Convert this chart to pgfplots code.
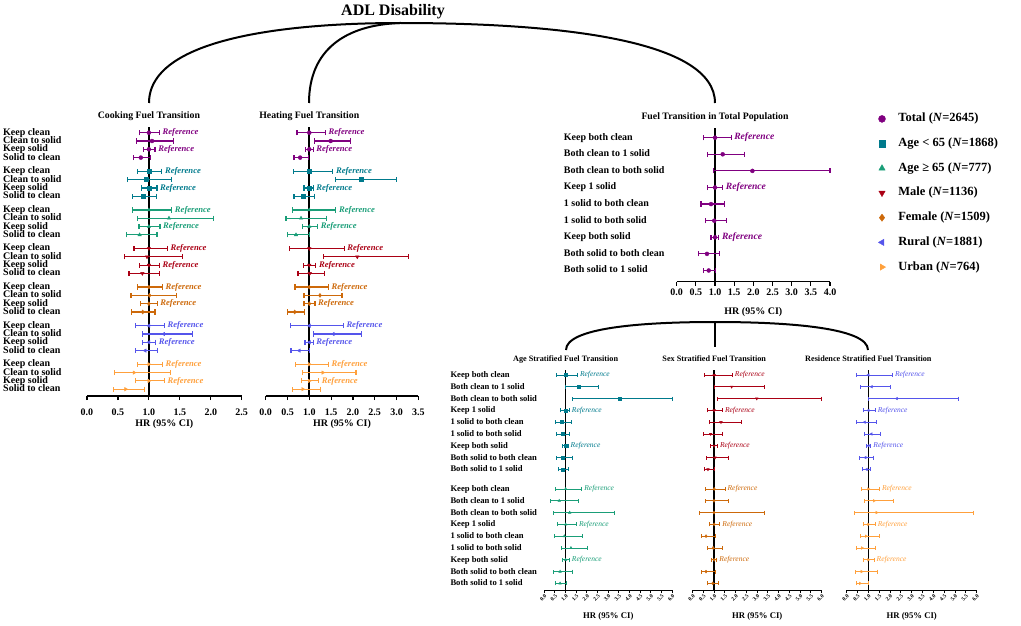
\documentclass[border=0pt]{standalone}
\usepackage{fontspec}
\setmainfont{Liberation Serif}
\usepackage{pgfplots}
\usepackage{pgfplotstable}
\pgfplotsset{compat=1.18}

\definecolor{cP}{RGB}{128,0,128}
\definecolor{cT}{RGB}{0,122,140}
\definecolor{cG}{RGB}{26,158,120}
\definecolor{cR}{RGB}{170,0,20}
\definecolor{cO}{RGB}{205,105,10}
\definecolor{cB}{RGB}{85,85,235}
\definecolor{cL}{RGB}{255,160,60}

% cooking fuel transition: r = row in group, hr, 95% CI
\pgfplotstableread{
r hr lo hi
0 1.00 0.845 1.17
1 1.05 0.80 1.40
2 1.00 0.91 1.10
3 0.87 0.75 1.03
}\cookP
\pgfplotstableread{
r hr lo hi
0 1.00 0.82 1.21
1 0.95 0.66 1.36
2 1.00 0.88 1.13
3 0.905 0.74 1.12
}\cookT
\pgfplotstableread{
r hr lo hi
0 1.00 0.73 1.37
1 1.325 0.82 2.05
2 1.00 0.84 1.18
3 0.85 0.64 1.13
}\cookG
\pgfplotstableread{
r hr lo hi
0 1.00 0.76 1.30
1 0.97 0.61 1.54
2 1.00 0.845 1.17
3 0.895 0.68 1.17
}\cookR
\pgfplotstableread{
r hr lo hi
0 1.00 0.81 1.22
1 1.01 0.71 1.45
2 1.00 0.865 1.135
3 0.90 0.72 1.10
}\cookO
\pgfplotstableread{
r hr lo hi
0 1.00 0.79 1.25
1 1.24 0.90 1.70
2 1.00 0.90 1.11
3 0.94 0.78 1.135
}\cookB
\pgfplotstableread{
r hr lo hi
0 1.00 0.81 1.22
1 0.76 0.44 1.35
2 1.00 0.79 1.25
3 0.625 0.43 0.93
}\cookL

% heating fuel transition
\pgfplotstableread{
r hr lo hi
0 1.00 0.72 1.37
1 1.49 1.12 1.95
2 1.00 0.91 1.09
3 0.79 0.65 0.98
}\heatP
\pgfplotstableread{
r hr lo hi
0 1.00 0.63 1.54
1 2.19 1.60 3.00
2 1.00 0.88 1.09
3 0.85 0.65 1.115
}\heatT
\pgfplotstableread{
r hr lo hi
0 1.00 0.61 1.61
1 0.81 0.465 1.40
2 1.00 0.84 1.19
3 0.695 0.50 1.00
}\heatG
\pgfplotstableread{
r hr lo hi
0 1.00 0.54 1.80
1 2.10 1.32 3.28
2 1.00 0.86 1.15
3 1.01 0.74 1.35
}\heatR
\pgfplotstableread{
r hr lo hi
0 1.00 0.67 1.44
1 1.245 0.88 1.75
2 1.00 0.88 1.13
3 0.665 0.505 0.885
}\heatO
\pgfplotstableread{
r hr lo hi
0 1.00 0.56 1.78
1 1.55 1.09 2.19
2 1.00 0.90 1.09
3 0.77 0.58 1.00
}\heatB
\pgfplotstableread{
r hr lo hi
0 1.00 0.68 1.44
1 1.31 0.85 2.07
2 1.00 0.83 1.215
3 0.85 0.62 1.25
}\heatL

% total population
\pgfplotstableread{
r hr lo hi
0 1.00 0.695 1.42
1 1.20 0.81 1.765
2 1.975 0.955 4.00
3 1.00 0.81 1.20
4 0.895 0.635 1.245
5 0.98 0.757 1.305
6 1.00 0.895 1.10
7 0.79 0.575 1.11
8 0.835 0.695 1.01
}\totP

% stratified
\pgfplotstableread{
r hr lo hi
0 1.00 0.58 1.55
1 1.61 0.985 2.55
2 3.55 1.30 6.00
3 1.00 0.77 1.17
4 0.815 0.52 1.27
5 0.845 0.58 1.20
6 1.00 0.86 1.11
7 0.845 0.55 1.33
8 0.86 0.675 1.11
}\ageT
\pgfplotstableread{
r hr lo hi
0 1.00 0.52 1.75
1 0.70 0.31 1.61
2 1.19 0.42 3.31
3 1.00 0.63 1.50
4 0.94 0.49 1.80
5 1.25 0.80 2.02
6 1.00 0.83 1.17
7 0.74 0.42 1.30
8 0.74 0.52 1.05
}\ageG
\pgfplotstableread{
r hr lo hi
0 1.00 0.525 1.84
1 1.81 0.99 3.32
2 2.98 1.17 6.00
3 1.00 0.68 1.38
4 1.315 0.80 2.245
5 0.835 0.495 1.395
6 1.00 0.835 1.145
7 1.04 0.65 1.655
8 0.71 0.525 1.005
}\sexR
\pgfplotstableread{
r hr lo hi
0 1.00 0.60 1.50
1 0.99 0.585 1.67
2 0.99 0.31 3.32
3 1.00 0.76 1.26
4 0.62 0.40 1.07
5 0.95 0.68 1.395
6 1.00 0.85 1.12
7 0.62 0.40 1.04
8 0.93 0.68 1.19
}\sexO
\pgfplotstableread{
r hr lo hi
0 1.00 0.46 2.105
1 1.15 0.615 2.03
2 2.31 1.00 5.15
3 1.00 0.77 1.31
4 0.83 0.46 1.355
5 1.14 0.83 1.54
6 1.00 0.89 1.11
7 0.86 0.58 1.23
8 0.92 0.74 1.08
}\resB
\pgfplotstableread{
r hr lo hi
0 1.00 0.67 1.505
1 1.26 0.80 2.15
2 1.38 0.37 5.85
3 1.00 0.77 1.31
4 0.89 0.615 1.505
5 0.71 0.43 1.32
6 1.00 0.77 1.26
7 0.69 0.395 1.41
8 0.615 0.43 1.00
}\resL

\newcommand{\bfs}[1]{\bfseries\fontsize{#1}{#1}\selectfont}

\tikzset{
  reftop/.style={anchor=west, inner sep=0pt, xshift=3pt, text height=6pt, text depth=1.5pt, font=\bfseries\itshape\fontsize{8.6}{8.6}\selectfont},
  reftot/.style={reftop, font=\bfseries\itshape\fontsize{9.6}{9.6}\selectfont},
  refbot/.style={anchor=west, inner sep=0pt, xshift=2.5pt, text height=5pt, text depth=1.2pt, font=\itshape\fontsize{7.5}{7.5}\selectfont},
}

\pgfplotsset{
  sP/.style={cP, mark=*},
  sT/.style={cT, mark=square*},
  sG/.style={cG, mark=triangle*},
  sR/.style={cR, mark=triangle*, mark options={rotate=180}},
  sO/.style={cO, mark=diamond*},
  sB/.style={cB, mark=triangle*, mark options={rotate=90}},
  sL/.style={cL, mark=triangle*, mark options={rotate=-90}},
  bartop/.style={mark size=2pt,
    error bars/error mark=|,
    error bars/error bar style={line width=1.2pt},
    error bars/error mark options={line width=1.2pt, mark size=2.6pt, rotate=0}},
  barbot/.style={mark size=1.5pt,
    error bars/error mark=|,
    error bars/error bar style={line width=0.9pt},
    error bars/error mark options={line width=0.9pt, mark size=2pt, rotate=0}},
  forest/.style={
    scale only axis, clip=false,
    axis lines*=left,
    y axis line style={draw=none},
    x axis line style={line width=1.2pt},
    ytick style={draw=none},
    xtick style={black, line width=1.2pt},
    tick align=outside,
    major tick length=4pt,
    /pgf/number format/assume math mode=true,
    /pgf/number format/fixed,
    /pgf/number format/fixed zerofill,
    /pgf/number format/precision=1,
    yticklabel style={anchor=west, inner sep=0pt, text height=7pt, text depth=2pt},
    title style={anchor=base},
    xlabel={HR (95\% CI)},
    xlabel style={at={(axis description cs:0.5,0)}, anchor=base},
  },
  toppanel/.style={forest,
    height=269pt, ymin=-31.72, ymax=0.687,
    xticklabel style={font=\bfs{10}, yshift=-5.5pt},
    yticklabel style={font=\bfs{10}},
    title style={font=\bfs{9.8}, yshift=2.7pt},
    xlabel style={font=\bfs{10}, yshift=-30.3pt},
  },
  botpanel/.style={forest,
    height=220pt, ymin=-18.22, ymax=0.42,
    xmin=0, xmax=6, xtick={0,0.5,...,6},
    major tick length=3pt,
    x axis line style={line width=1pt},
    xtick style={black, line width=1pt},
    xticklabel style={font=\bfs{5.5}, rotate=45, anchor=north east, inner sep=0.8pt},
    yticklabel style={font=\bfs{8.6}},
    title style={at={(axis description cs:0.1667,1)}, font=\bfs{8.2}, yshift=2.3pt},
    xlabel style={font=\bfs{8.7}, yshift=-28.5pt},
  },
}

% one forest series: #1 style, #2 table, #3 row offset, #4 size style
\newcommand{\fs}[4]{%
  \addplot[#1, only marks, #4, forget plot,
    error bars/.cd, x dir=both, x explicit]
    table[x=hr, y expr={-(\thisrow{r}+#3)},
      x error plus expr={\thisrow{hi}-\thisrow{hr}},
      x error minus expr={\thisrow{hr}-\thisrow{lo}}] {#2};}
% "Reference" label: #1 style, #2 colour, #3 upper CI, #4 row
\newcommand{\refl}[4]{\node[#1, text=#2] at (axis cs:#3,#4) {Reference};}

\begin{document}
\begin{tikzpicture}
\path[use as bounding box] (0pt,0pt) rectangle (1021pt,-626pt);

% connecting arcs
\begin{scope}[line width=2pt]
\draw (149pt,-103pt) .. controls (149pt,-35pt) and (300pt,-23pt) .. (400pt,-23pt)
      .. controls (560pt,-23pt) and (715pt,-40pt) .. (715pt,-103pt);
\draw (309pt,-103pt) .. controls (309pt,-50pt) and (345pt,-25pt) .. (400pt,-23pt);
\draw (566pt,-350pt) .. controls (566pt,-328pt) and (640pt,-322pt) .. (715pt,-322pt)
      .. controls (790pt,-322pt) and (868pt,-328pt) .. (868pt,-350pt);
\draw (715pt,-322pt) -- (715pt,-347pt);
\end{scope}
\node[font=\bfs{16}] at (393pt,-12pt) {ADL Disability};

% ---------------- Cooking fuel transition ----------------
\begin{axis}[toppanel, at={(87pt,-396pt)}, anchor=south west, width=154.7pt,
  xmin=0, xmax=2.5, xtick={0,0.5,...,2.5},
  title={Cooking Fuel Transition},
  title style={at={(axis description cs:0.4,1)}},
  ytick={0,-1,-2,-3,-4.65,-5.65,-6.65,-7.65,-9.3,-10.3,-11.3,-12.3,-13.95,-14.95,-15.95,-16.95,-18.6,-19.6,-20.6,-21.6,-23.25,-24.25,-25.25,-26.25,-27.9,-28.9,-29.9,-30.9},
  yticklabels={Keep clean,Clean to solid,Keep solid,Solid to clean,Keep clean,Clean to solid,Keep solid,Solid to clean,Keep clean,Clean to solid,Keep solid,Solid to clean,Keep clean,Clean to solid,Keep solid,Solid to clean,Keep clean,Clean to solid,Keep solid,Solid to clean,Keep clean,Clean to solid,Keep solid,Solid to clean,Keep clean,Clean to solid,Keep solid,Solid to clean},
  yticklabel style={xshift=-80pt},
]
\addplot[black, line width=2pt, forget plot] coordinates {(1,-31.72) (1,0.687)};
\fs{sP}{\cookP}{0}{bartop}
\fs{sT}{\cookT}{4.65}{bartop}
\fs{sG}{\cookG}{9.3}{bartop}
\fs{sR}{\cookR}{13.95}{bartop}
\fs{sO}{\cookO}{18.6}{bartop}
\fs{sB}{\cookB}{23.25}{bartop}
\fs{sL}{\cookL}{27.9}{bartop}
\refl{reftop}{cP}{1.17}{0}      \refl{reftop}{cP}{1.10}{-2}
\refl{reftop}{cT}{1.21}{-4.65}  \refl{reftop}{cT}{1.13}{-6.65}
\refl{reftop}{cG}{1.37}{-9.3}   \refl{reftop}{cG}{1.18}{-11.3}
\refl{reftop}{cR}{1.30}{-13.95} \refl{reftop}{cR}{1.17}{-15.95}
\refl{reftop}{cO}{1.22}{-18.6}  \refl{reftop}{cO}{1.135}{-20.6}
\refl{reftop}{cB}{1.25}{-23.25} \refl{reftop}{cB}{1.11}{-25.25}
\refl{reftop}{cL}{1.22}{-27.9}  \refl{reftop}{cL}{1.25}{-29.9}
\end{axis}

% ---------------- Heating fuel transition ----------------
\begin{axis}[toppanel, at={(265.7pt,-396pt)}, anchor=south west, width=152.6pt,
  xmin=0, xmax=3.5, xtick={0,0.5,...,3.5}, ytick=\empty,
  title={Heating Fuel Transition},
  title style={at={(axis description cs:0.2857,1)}},
]
\addplot[black, line width=2pt, forget plot] coordinates {(1,-31.72) (1,0.687)};
\fs{sP}{\heatP}{0}{bartop}
\fs{sT}{\heatT}{4.65}{bartop}
\fs{sG}{\heatG}{9.3}{bartop}
\fs{sR}{\heatR}{13.95}{bartop}
\fs{sO}{\heatO}{18.6}{bartop}
\fs{sB}{\heatB}{23.25}{bartop}
\fs{sL}{\heatL}{27.9}{bartop}
\refl{reftop}{cP}{1.37}{0}      \refl{reftop}{cP}{1.09}{-2}
\refl{reftop}{cT}{1.54}{-4.65}  \refl{reftop}{cT}{1.09}{-6.65}
\refl{reftop}{cG}{1.61}{-9.3}   \refl{reftop}{cG}{1.19}{-11.3}
\refl{reftop}{cR}{1.80}{-13.95} \refl{reftop}{cR}{1.15}{-15.95}
\refl{reftop}{cO}{1.44}{-18.6}  \refl{reftop}{cO}{1.13}{-20.6}
\refl{reftop}{cB}{1.78}{-23.25} \refl{reftop}{cB}{1.09}{-25.25}
\refl{reftop}{cL}{1.44}{-27.9}  \refl{reftop}{cL}{1.215}{-29.9}
\end{axis}

% ---------------- Total population (with legend) ----------------
\begin{axis}[forest, at={(676.7pt,-281.7pt)}, anchor=south west,
  width=153.3pt, height=153.7pt, ymin=-8.675, ymax=0.584,
  xmin=0, xmax=4, xtick={0,0.5,...,4},
  xticklabel style={font=\bfs{10}},
  yticklabel style={font=\bfs{10}, xshift=-109pt},
  title={Fuel Transition in Total Population},
  title style={at={(axis description cs:0.25,1)}, font=\bfs{9.8}, yshift=3pt},
  xlabel style={font=\bfs{10}, yshift=-32.3pt},
  ytick={0,-1,...,-8},
  yticklabels={Keep both clean,Both clean to 1 solid,Both clean to both solid,Keep 1 solid,1 solid to both clean,1 solid to both solid,Keep both solid,Both solid to both clean,Both solid to 1 solid},
  legend cell align=left,
  legend style={draw=none, fill=none, at={(axis description cs:1.3145,1.0996)},
    anchor=north west, inner sep=0pt, row sep=12.7pt,
    font=\bfs{12.5},
    nodes={inner sep=0pt, text height=9pt, text depth=3pt},
    /tikz/every odd column/.append style={column sep=12.7pt}},
]
\addplot[black, line width=2pt, forget plot] coordinates {(1,-8.675) (1,0.584)};
\fs{sP}{\totP}{0}{bartop}
\refl{reftot}{cP}{1.42}{0} \refl{reftot}{cP}{1.20}{-3} \refl{reftot}{cP}{1.10}{-6}
\addlegendimage{only marks, sP, mark size=3.5pt}
\addlegendentry{Total (\textit{N}=2645)}
\addlegendimage{only marks, sT, mark size=3.3pt}
\addlegendentry{Age < 65 (\textit{N}=1868)}
\addlegendimage{only marks, sG, mark size=3.6pt}
\addlegendentry{Age ≥ 65 (\textit{N}=777)}
\addlegendimage{only marks, sR, mark size=3.6pt}
\addlegendentry{Male (\textit{N}=1136)}
\addlegendimage{only marks, sO, mark size=3.6pt}
\addlegendentry{Female (\textit{N}=1509)}
\addlegendimage{only marks, sB, mark size=3.6pt}
\addlegendentry{Rural (\textit{N}=1881)}
\addlegendimage{only marks, sL, mark size=3.6pt}
\addlegendentry{Urban (\textit{N}=764)}
\end{axis}

% ---------------- Age stratified ----------------
\begin{axis}[botpanel, at={(544.3pt,-590pt)}, anchor=south west, width=128pt,
  title={Age Stratified Fuel Transition},
  ytick={0,-1,-2,-3,-4,-5,-6,-7,-8,-9.66,-10.66,-11.66,-12.66,-13.66,-14.66,-15.66,-16.66,-17.66},
  yticklabels={Keep both clean,Both clean to 1 solid,Both clean to both solid,Keep 1 solid,1 solid to both clean,1 solid to both solid,Keep both solid,Both solid to both clean,Both solid to 1 solid,Keep both clean,Both clean to 1 solid,Both clean to both solid,Keep 1 solid,1 solid to both clean,1 solid to both solid,Keep both solid,Both solid to both clean,Both solid to 1 solid},
  yticklabel style={xshift=-91pt},
]
\addplot[black, line width=1.6pt, forget plot] coordinates {(1,-18.22) (1,0.42)};
\fs{sT}{\ageT}{0}{barbot}
\fs{sG}{\ageG}{9.66}{barbot}
\refl{refbot}{cT}{1.55}{0} \refl{refbot}{cT}{1.17}{-3} \refl{refbot}{cT}{1.11}{-6}
\refl{refbot}{cG}{1.75}{-9.66} \refl{refbot}{cG}{1.50}{-12.66} \refl{refbot}{cG}{1.17}{-15.66}
\end{axis}

% ---------------- Sex stratified ----------------
\begin{axis}[botpanel, at={(692.7pt,-590pt)}, anchor=south west, width=129pt,
  title={Sex Stratified Fuel Transition}, ytick=\empty,
]
\addplot[black, line width=1.6pt, forget plot] coordinates {(1,-18.22) (1,0.42)};
\fs{sR}{\sexR}{0}{barbot}
\fs{sO}{\sexO}{9.66}{barbot}
\refl{refbot}{cR}{1.84}{0} \refl{refbot}{cR}{1.38}{-3} \refl{refbot}{cR}{1.145}{-6}
\refl{refbot}{cO}{1.50}{-9.66} \refl{refbot}{cO}{1.26}{-12.66} \refl{refbot}{cO}{1.12}{-15.66}
\end{axis}

% ---------------- Residence stratified ----------------
\begin{axis}[botpanel, at={(846.7pt,-590pt)}, anchor=south west, width=130pt,
  title={Residence Stratified Fuel Transition}, ytick=\empty,
]
\addplot[black, line width=1.6pt, forget plot] coordinates {(1,-18.22) (1,0.42)};
\fs{sB}{\resB}{0}{barbot}
\fs{sL}{\resL}{9.66}{barbot}
\refl{refbot}{cB}{2.105}{0} \refl{refbot}{cB}{1.31}{-3} \refl{refbot}{cB}{1.11}{-6}
\refl{refbot}{cL}{1.505}{-9.66} \refl{refbot}{cL}{1.31}{-12.66} \refl{refbot}{cL}{1.26}{-15.66}
\end{axis}
\end{tikzpicture}
\end{document}
